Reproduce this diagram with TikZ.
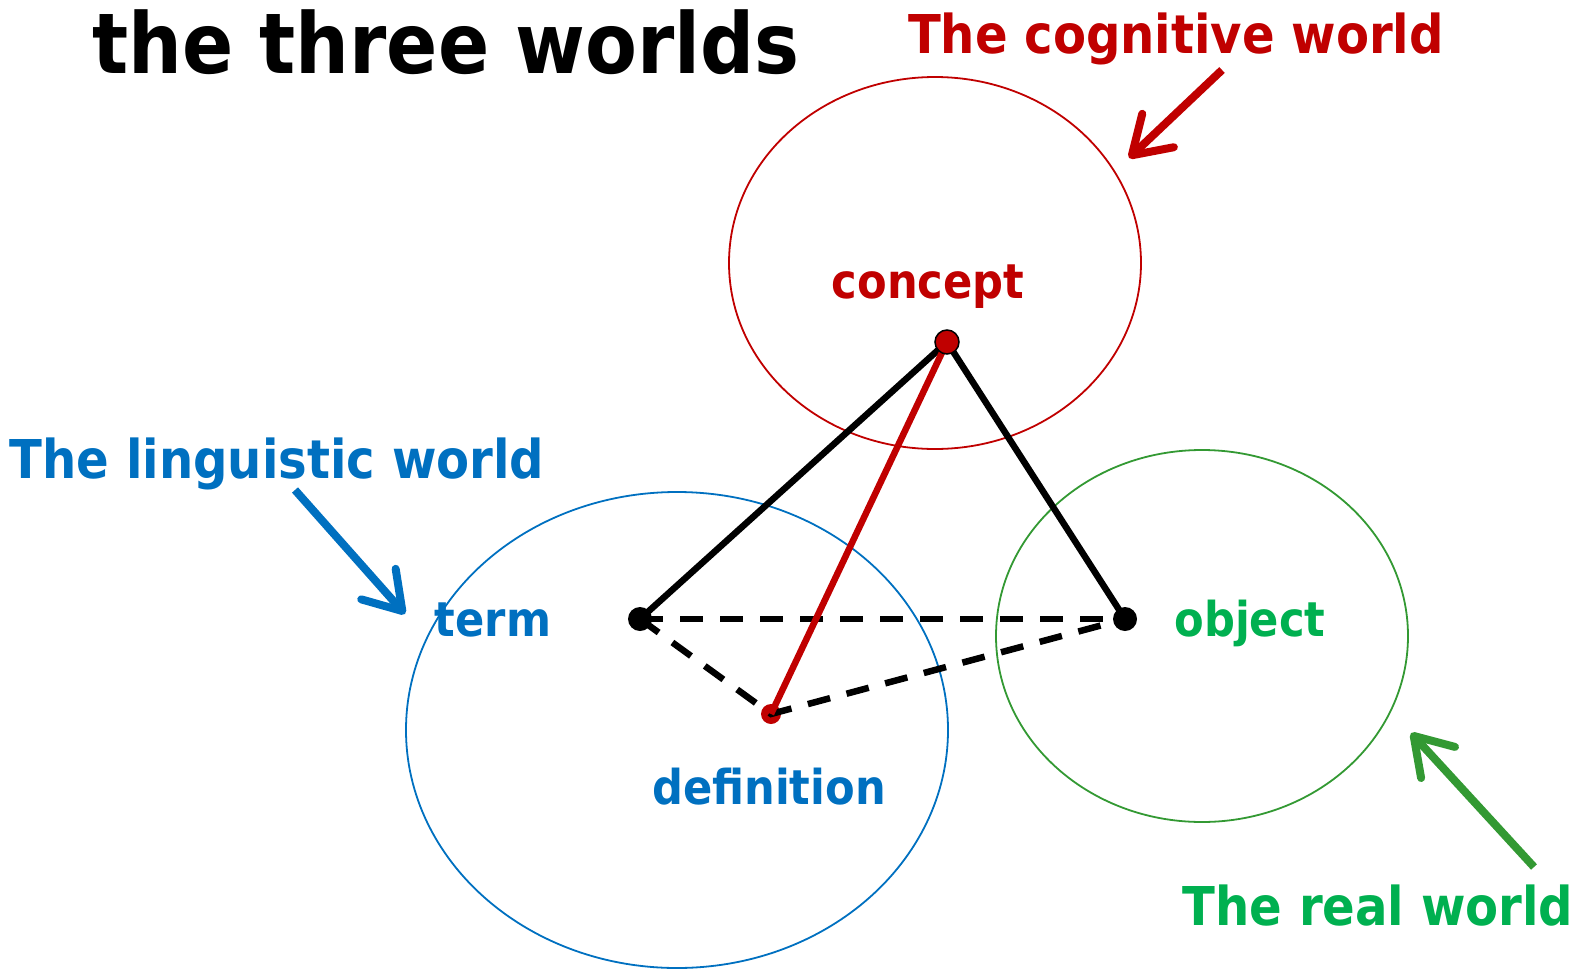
\documentclass[tikz,border=0pt]{standalone}
\usepackage{fontspec}
\setmainfont{DejaVu Sans Condensed}
\usepackage{xcolor}
\usetikzlibrary{arrows.meta,positioning,shapes.geometric}
\definecolor{cogred}{RGB}{192,0,0}
\definecolor{lingblue}{RGB}{0,112,192}
\definecolor{realgreen}{RGB}{0,176,80}
\definecolor{arrowgreen}{RGB}{51,153,51}
\tikzset{
  worldbox/.style={draw, ellipse, line width=1.8pt, inner sep=0pt},
  worldlabel/.style={anchor=base, font=\fontsize{53.5}{60}\selectfont\bfseries, inner sep=0pt},
  termlabel/.style={anchor=base, font=\fontsize{48}{54}\selectfont\bfseries, inner sep=0pt},
  pointdot/.style={circle, fill=black, minimum size=24pt, inner sep=0pt},
  worldarrow/.style={-{Straight Barb[round,length=36pt,width=46pt]}, line width=8pt},
  solidlink/.style={line width=6.5pt},
  dashlink/.style={line width=6.5pt, dash pattern=on 23pt off 17pt}
}
\begin{document}
\begin{tikzpicture}[x=1pt,y=-1pt]
\useasboundingbox (0,0) rectangle (1577,969);
% the three worlds
\node[worldbox, draw=cogred, minimum width=412pt, minimum height=372pt] (cogworld) at (935,263) {};
\node[worldbox, draw=lingblue, minimum width=542pt, minimum height=476pt] (lingworld) at (677,730) {};
\node[worldbox, draw=arrowgreen, minimum width=412pt, minimum height=372pt] (realworld) at (1202,636) {};
% title and world names
\node[anchor=base, inner sep=0pt, font=\fontsize{84}{90}\selectfont\bfseries] (title) at (446,73) {the three worlds};
\node[worldlabel, text=cogred] (coglabel) at (1176,53) {The cognitive world};
\node[worldlabel, text=lingblue] (linglabel) at (277,478) {The linguistic world};
\node[worldlabel, text=realgreen] (reallabel) at (1378,925) {The real world};
% points
\node[pointdot, fill=cogred, minimum size=20pt] (definition) at (771,714) {};
\node[pointdot] (term) at (640,619) {};
\node[pointdot] (object) at (1125,619) {};
\draw[dashlink] (term.center) -- (object.center);
\draw[dashlink] (term.center) -- (definition.center) -- (object.center);
\draw[solidlink] (term.center) -- (947,342) -- (object.center);
\draw[solidlink, cogred] (947,342) -- (definition.center);
\node[pointdot, fill=cogred, draw=black, line width=1.5pt] (concept) at (947,342) {};
% labels
\node[termlabel, text=cogred] (conceptlabel) at (928,298) {concept};
\node[termlabel, text=lingblue] (termlabel) at (493,636) {term};
\node[termlabel, text=realgreen] (objectlabel) at (1250,636) {object};
\node[termlabel, text=lingblue] (deflabel) at (769,804) {definition};
% arrows
\coordinate (cogtail) at (1222,70);
\coordinate (lingtail) at (295,490);
\coordinate (realtail) at (1534,867);
\draw[worldarrow, cogred] (cogtail) -- (1129,158);
\draw[worldarrow, lingblue] (lingtail) -- (405,614);
\draw[worldarrow, arrowgreen] (realtail) -- (1411,733);
\end{tikzpicture}
\end{document}
